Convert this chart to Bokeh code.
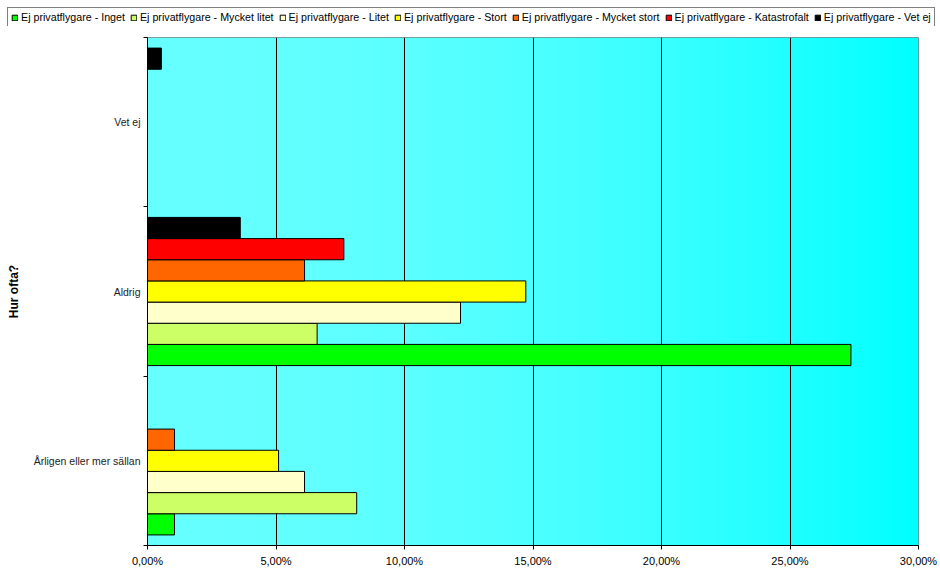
import numpy as np
from bokeh.plotting import figure
from bokeh.models import (FixedTicker, Legend, LegendItem, ColumnDataSource)
from bokeh.transform import dodge
from bokeh.embed import file_html
from bokeh.resources import INLINE

# ---------------- data ----------------
categories = ["Årligen eller mer sällan", "Aldrig", "Vet ej"]
series_names = [
    "Ej privatflygare - Inget",
    "Ej privatflygare - Mycket litet",
    "Ej privatflygare - Litet",
    "Ej privatflygare - Stort",
    "Ej privatflygare - Mycket stort",
    "Ej privatflygare - Katastrofalt",
    "Ej privatflygare - Vet ej",
]
series_colors = ["#00FF00", "#CCFF66", "#FFFFCC", "#FFFF00", "#FF6600", "#FF0000", "#000000"]

inget = [1.05, 27.37, 0.0]
mycket_litet = [8.14, 6.60, 0.0]
litet = [6.11, 12.18, 0.0]
stort = [5.10, 14.72, 0.0]
mycket_stort = [1.05, 6.11, 0.0]
katastrofalt = [0.0, 7.64, 0.0]
vet_ej = [0.0, 3.61, 0.54]
series_values = [inget, mycket_litet, litet, stort, mycket_stort, katastrofalt, vet_ej]

x_ticks = [0, 5, 10, 15, 20, 25, 30]
x_tick_labels = ["0,00%", "5,00%", "10,00%", "15,00%", "20,00%", "25,00%", "30,00%"]

W = 938
LH = 26          # height of the legend strip
H = 543          # height of the chart

# ---------------- main chart ----------------
p = figure(width=W, height=H, output_backend="svg", toolbar_location=None,
           x_range=(x_ticks[0], x_ticks[-1]), y_range=(0, len(categories)),
           min_border_left=147, min_border_right=20, min_border_top=11, min_border_bottom=0,
           background_fill_color="#66FFFF", border_fill_color="white")
p.outline_line_color = "#808080"
p.outline_line_width = 1

# gradient background for the plot area
n = 256
t = np.linspace(0, 1, n)
rc = (102 * (1 - t ** 2)).astype(np.uint32)
img = np.zeros((1, n), dtype=np.uint32)
view = img.view(dtype=np.uint8).reshape((1, n, 4))
view[0, :, 0] = rc
view[0, :, 1] = 255
view[0, :, 2] = 255
view[0, :, 3] = 255
p.image_rgba(image=[img], x=x_ticks[0], y=0, dw=x_ticks[-1] - x_ticks[0], dh=len(categories),
             level="image")

# legend strip (its own small canvas, same glyph styles)
lf = figure(width=W, height=LH, output_backend="svg", toolbar_location=None,
            x_range=(0, 1), y_range=(0, 1), x_axis_location=None, y_axis_location=None,
            min_border=0, min_border_left=0, min_border_right=0, min_border_top=0,
            min_border_bottom=0, outline_line_color=None, background_fill_color="white",
            border_fill_color="white")
lf.grid.visible = False

# bars
ypos = [i + 0.5 for i in range(len(categories))]
nser = len(series_names)
bar_h = 1.0 / (nser + 1)
items = []
for i, (name, vals, col) in enumerate(zip(series_names, series_values, series_colors)):
    src = ColumnDataSource(dict(y=ypos, v=vals, cat=categories))
    off = -0.5 + bar_h * (i + 1)
    p.hbar(y=dodge("y", off), left=0, right="v", height=bar_h, source=src,
           fill_color=col, line_color="black", line_width=1)
    lr = lf.hbar(y=dodge("y", off), left=0, right="v", height=bar_h, source=src,
                 fill_color=col, line_color="black", line_width=1, visible=False)
    items.append(LegendItem(label=name, renderers=[lr]))

# axes
p.xaxis.ticker = FixedTicker(ticks=x_ticks)
p.xaxis.major_label_overrides = {k: v for k, v in zip(x_ticks, x_tick_labels)}
p.xaxis.major_label_text_font = "Liberation Sans"
p.xaxis.major_label_text_font_size = "11px"
p.xaxis.major_label_text_color = "black"
p.xaxis.major_tick_out = 4
p.xaxis.major_tick_in = 0
p.xaxis.minor_tick_out = 0
p.xaxis.minor_tick_in = 0
p.xaxis.axis_line_color = "black"
p.xaxis.major_tick_line_color = "black"
p.xaxis.major_label_standoff = 5
p.xaxis.axis_label = None
p.xaxis.axis_label_standoff = 0

p.yaxis.ticker = FixedTicker(ticks=ypos, minor_ticks=list(range(len(categories) + 1)))
p.yaxis.major_label_overrides = {v: c for v, c in zip(ypos, categories)}
p.yaxis.major_label_text_font = "Liberation Sans"
p.yaxis.major_label_text_font_size = "10.5px"
p.yaxis.major_label_text_color = "#222222"
p.yaxis.major_tick_out = 0
p.yaxis.major_tick_in = 0
p.yaxis.minor_tick_out = 4
p.yaxis.minor_tick_in = 0
p.yaxis.minor_tick_line_color = "black"
p.yaxis.axis_line_color = "black"
p.yaxis.major_label_standoff = 3
p.yaxis.axis_label = "Hur ofta?"
p.yaxis.axis_label_text_font = "Liberation Sans"
p.yaxis.axis_label_text_font_style = "bold"
p.yaxis.axis_label_text_font_size = "12px"
p.yaxis.axis_label_text_color = "black"
p.yaxis.axis_label_standoff = 10

p.xgrid.ticker = FixedTicker(ticks=x_ticks[1:-1])
p.xgrid.grid_line_color = "black"
p.xgrid.grid_line_alpha = 1.0
p.xgrid.grid_line_width = 1
p.ygrid.grid_line_color = None

legend = Legend(items=items, orientation="horizontal", location="top_left",
                label_text_font="Liberation Sans", label_text_font_size="10.7px",
                label_text_color="black", label_height=9, label_standoff=3,
                glyph_width=7, glyph_height=7, spacing=5, padding=3, margin=7,
                border_line_color="black", border_line_width=1,
                background_fill_color="white", background_fill_alpha=1.0)
lf.add_layout(legend, "center")

open("out.html", "w").write(file_html([lf, p], INLINE))
